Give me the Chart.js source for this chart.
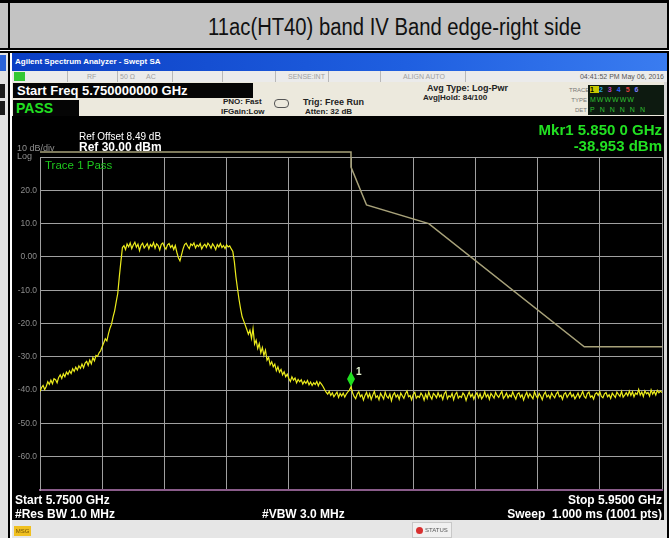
<!DOCTYPE html>
<html>
<head>
<meta charset="utf-8">
<script src="https://cdn.jsdelivr.net/npm/chart.js@4"></script>
<style>
body { margin: 0; width: 672px; height: 538px; overflow: hidden; background: #fff; position: relative; font-family: "Liberation Sans", Arial, sans-serif; }
.a { position: absolute; white-space: nowrap; }
.b { font-weight: bold; }
.w { color: #fff; }
.g { color: #22e022; }
.sep { position: absolute; top: 71px; width: 1px; height: 11px; background: #b8b8b8; }
.st { font-size: 7px; color: #a0a0a0; top: 72px; line-height: 10px; }
.dk { font-size: 8px; color: #222; font-weight: bold; line-height: 10px; }
</style>
</head>
<body>
<!-- table frame -->
<div class="a" style="left:0;top:0;width:672px;height:3px;background:#000"></div>
<div class="a" style="left:0;top:3px;width:668px;height:46px;background:#c3c3c3"></div>
<div class="a" style="left:8px;top:0;width:2px;height:538px;background:#000"></div>
<div class="a" style="left:667px;top:0;width:2px;height:538px;background:#000"></div>
<div class="a" style="left:669px;top:0;width:3px;height:538px;background:#fff"></div>
<div class="a" style="left:208px;top:9px;font-size:23px;line-height:36px;color:#111;transform:scaleX(0.88);transform-origin:left center">11ac(HT40) band IV Band edge-right side</div>
<div class="a" style="left:0;top:48px;width:669px;height:2px;background:#000"></div>
<div class="a" style="left:0;top:50px;width:669px;height:1px;background:#fff"></div>
<div class="a" style="left:0;top:51px;width:669px;height:2px;background:#000"></div>

<!-- left fragment of previous screenshot -->
<div class="a" style="left:0;top:53px;width:8px;height:485px;background:#e2e2e2"></div>
<div class="a" style="left:0;top:55px;width:6px;height:16px;background:#2a62d8"></div>
<div class="a" style="left:0;top:84px;width:5px;height:14px;background:#1a1a1a"></div>
<div class="a" style="left:0;top:101px;width:5px;height:14px;background:#1a1a1a"></div>
<div class="a" style="left:10px;top:53px;width:2px;height:485px;background:#fff"></div>

<!-- analyzer window -->
<div class="a" style="left:12px;top:53px;width:655px;height:18px;background:linear-gradient(to right,#0b3fc4,#1f5fe0 60%,#3a7cf0)"></div>
<div class="a b w" style="left:15px;top:56px;font-size:8px;line-height:12px">Agilent Spectrum Analyzer - Swept SA</div>
<div class="a" style="left:12px;top:71px;width:655px;height:11px;background:#ebebeb"></div>
<div class="a" style="left:14px;top:72px;width:11px;height:9px;background:#33c833"></div>
<div class="sep" style="left:67px"></div>
<div class="sep" style="left:117px"></div>
<div class="sep" style="left:172px"></div>
<div class="sep" style="left:222px"></div>
<div class="sep" style="left:275px"></div>
<div class="sep" style="left:328px"></div>
<div class="sep" style="left:380px"></div>
<div class="sep" style="left:465px"></div>
<div class="a st" style="left:87px">RF</div>
<div class="a st" style="left:120px">50 Ω</div>
<div class="a st" style="left:146px">AC</div>
<div class="a st" style="left:288px">SENSE:INT</div>
<div class="a st" style="left:403px">ALIGN AUTO</div>
<div class="a st" style="right:8px;color:#555">04:41:52 PM May 06, 2016</div>

<div class="a" style="left:12px;top:82px;width:655px;height:34px;background:#ece9dd"></div>
<div class="a" style="left:13px;top:83px;width:240px;height:15px;background:#050505"></div>
<div class="a b w" style="left:17px;top:83px;font-size:13px;line-height:15px">Start Freq 5.750000000 GHz</div>
<div class="a" style="left:13px;top:100px;width:66px;height:16px;background:#050505"></div>
<div class="a b g" style="left:16px;top:100px;font-size:14px;line-height:16px">PASS</div>
<div class="a dk" style="left:223px;top:97px">PNO: Fast</div>
<div class="a dk" style="left:221px;top:107px">IFGain:Low</div>
<div class="a" style="left:274px;top:99px;width:13px;height:7px;border:1px solid #555;border-radius:4px"></div>
<div class="a dk" style="left:303px;top:97px;font-size:9px">Trig: Free Run</div>
<div class="a dk" style="left:305px;top:107px">Atten: 32 dB</div>
<div class="a dk" style="left:427px;top:83px;font-size:9px">Avg Type: Log-Pwr</div>
<div class="a dk" style="left:423px;top:93px">Avg|Hold: 84/100</div>
<div class="a" style="left:569px;top:85px;font-size:6px;color:#777;line-height:10px;text-align:right;width:18px">TRACE<br>TYPE<br>DET</div>
<div class="a" style="left:588px;top:85px;width:77px;height:30px;background:#0d1a10"></div>
<div class="a b" style="left:590px;top:85px;font-size:7px;line-height:10px;letter-spacing:5px"><span style="background:#c8c800;color:#000">1</span><span style="color:#29a0e0">2</span><span style="color:#c040c0">3</span><span style="color:#3060ff">4</span><span style="color:#e04040">5</span><span style="color:#8080ff">6</span></div>
<div class="a" style="left:590px;top:95px;font-size:7px;line-height:10px;color:#30c030;letter-spacing:1px">MWWWWW</div>
<div class="a" style="left:590px;top:105px;font-size:7px;line-height:10px;color:#30c030;letter-spacing:5px">PNNNNN</div>

<!-- black display -->
<div class="a" style="left:12px;top:116px;width:652px;height:404px;background:#000"></div>
<div class="a" style="left:664px;top:82px;width:3px;height:438px;background:#d6d6d6"></div>
<canvas id="sa" class="a" style="left:12px;top:116px" width="652" height="404"></canvas>

<div class="a w" style="left:79px;top:131px;font-size:10px;line-height:11px">Ref Offset 8.49 dB</div>
<div class="a" style="left:17px;top:143px;font-size:9px;line-height:11px;color:#909090">10 dB/div</div>
<div class="a b w" style="left:79px;top:141px;font-size:12px;line-height:13px">Ref 30.00 dBm</div>
<div class="a" style="left:17px;top:151px;font-size:9px;line-height:10px;color:#909090">Log</div>
<div class="a b g" style="right:10px;top:121px;font-size:15px;line-height:17px">Mkr1 5.850 0 GHz</div>
<div class="a b g" style="right:10px;top:137px;font-size:15px;line-height:17px">-38.953 dBm</div>
<div class="a" style="left:45px;top:159px;font-size:11.5px;line-height:13px;color:#1ec81e">Trace 1 Pass</div>

<div class="a b w" style="left:15px;top:493px;font-size:12px;line-height:14px">Start 5.7500 GHz</div>
<div class="a b w" style="left:15px;top:507px;font-size:12px;line-height:14px">#Res BW 1.0 MHz</div>
<div class="a b w" style="left:262px;top:507px;font-size:12px;line-height:14px">#VBW 3.0 MHz</div>
<div class="a b w" style="right:10px;top:493px;font-size:12px;line-height:14px">Stop 5.9500 GHz</div>
<div class="a b w" style="right:10px;top:507px;font-size:12px;line-height:14px">Sweep&nbsp; 1.000 ms (1001 pts)</div>

<!-- bottom status bar -->
<div class="a" style="left:12px;top:520px;width:655px;height:18px;background:#e6e6e6"></div>
<div class="a" style="left:14px;top:526px;width:17px;height:10px;background:#f0c020;font-size:6px;line-height:10px;color:#705000;text-align:center">MSG</div>
<div class="a" style="left:412px;top:522px;width:38px;height:14px;border:1px solid #c8c8c8;background:#f0f0f0"></div>
<div class="a" style="left:416px;top:527px;width:7px;height:7px;border-radius:50%;background:#d83030"></div>
<div class="a" style="left:425px;top:525px;font-size:6px;line-height:10px;color:#555">STATUS</div>

<script>
// sweep: 5750 MHz to 5950 MHz, one reading every 0.5 MHz (each row = 10 MHz)
const startMHz = 5750;
const stepMHz = 0.5;
const traceDbm = [
    -40.4, -39.2, -38.6, -39.8, -38.9, -37.5, -38.3, -37.0, -38.1, -36.6, -36.9, -37.8, -36.2, -35.4, -36.5, -35.1, -36.0, -34.6, -35.3, -34.2,
    -35.0, -33.6, -34.4, -33.1, -34.0, -32.7, -33.5, -32.2, -33.3, -31.9, -31.4, -32.6, -31.0, -32.1, -30.2, -31.2, -29.6, -29.9, -28.8, -28.2,
    -27.0, -25.8, -24.6, -25.2, -23.1, -21.4, -20.2, -18.0, -16.2, -13.5, -11.0, -6.0, -1.5, 2.8, 3.4, 2.2, 3.9, 3.0, 4.2, 2.5,
    3.6, 4.4, 2.9, 3.8, 1.9, 3.5, 4.1, 2.7, 3.3, 4.0, 2.4, 3.7, 3.1, 4.3, 2.6, 3.9, 3.4, 2.1, 3.8, 4.2,
    3.0, 2.3, 3.6, 4.0, 2.8, 3.5, 2.2, 3.4, 1.4, -0.3, -1.2, 0.6, 2.4, 3.7, 4.1, 3.2, 2.5, 3.9, 3.4, 4.2,
    2.7, 3.6, 3.1, 4.0, 2.4, 3.3, 3.8, 2.9, 4.1, 3.5, 2.6, 3.9, 3.2, 2.2, 3.7, 3.0, 4.0, 2.8, 3.4, 2.5,
    3.6, 3.0, 3.3, 2.4, 1.6, -1.5, -6.0, -9.5, -12.8, -15.6, -18.0, -19.2, -20.5, -21.8, -23.2, -22.0, -24.5, -21.5, -26.2, -25.0,
    -27.5, -26.0, -28.8, -27.2, -29.6, -28.0, -31.0, -30.2, -32.4, -31.5, -33.0, -32.2, -34.2, -33.0, -34.6, -33.8, -35.4, -34.5, -36.0, -35.2,
    -36.5, -37.4, -36.0, -37.0, -36.4, -37.8, -36.8, -37.5, -36.9, -38.2, -37.3, -38.0, -37.1, -38.4, -37.6, -38.6, -37.8, -38.3, -37.4, -38.7,
    -37.6, -38.2, -38.9, -39.8, -40.6, -41.2, -40.4, -41.6, -40.8, -42.0, -41.3, -40.6, -42.2, -41.0, -41.8, -40.9, -42.1, -41.2, -40.5, -40.0,
    -39.0, -40.8, -41.9, -42.6, -41.2, -40.5, -42.0, -41.4, -43.0, -41.6, -40.7, -42.3, -41.1, -42.8, -41.5, -40.4, -42.2, -41.7, -42.9, -41.0,
    -41.8, -42.7, -40.6, -41.9, -42.4, -41.2, -43.2, -41.5, -40.8, -42.1, -41.4, -42.8, -40.9, -41.7, -42.5, -41.1, -40.3, -42.0, -41.6, -42.9,
    -41.3, -40.7, -42.4, -41.8, -42.2, -40.9, -41.6, -43.0, -41.2, -42.5, -40.6, -41.9, -42.7, -41.0, -41.5, -42.3, -40.8, -42.0, -41.4, -42.8,
    -41.1, -40.4, -42.6, -41.7, -42.1, -41.0, -42.9, -41.3, -40.7, -42.4, -41.8, -42.2, -40.9, -41.5, -43.1, -41.6, -40.6, -42.0, -41.2, -42.7,
    -41.4, -40.8, -42.3, -41.1, -42.6, -41.9, -40.5, -42.1, -41.3, -42.8, -41.0, -41.7, -42.4, -40.7, -41.6, -42.2, -41.2, -40.4, -42.5, -41.8,
    -40.9, -42.3, -41.5, -42.0, -40.6, -41.8, -42.7, -41.2, -40.8, -42.1, -41.4, -43.0, -41.6, -40.7, -42.2, -41.1, -41.9, -42.6, -40.5, -41.7,
    -42.4, -41.0, -41.8, -42.9, -41.3, -40.6, -42.1, -41.5, -42.5, -40.9, -41.7, -42.3, -41.1, -40.5, -42.0, -41.6, -42.8, -41.2, -40.8, -42.2,
    -41.4, -40.7, -42.0, -41.3, -42.6, -41.8, -40.9, -42.3, -41.5, -40.4, -41.9, -42.4, -41.0, -40.6, -42.1, -41.7, -42.7, -41.2, -40.8, -41.6,
    -40.5, -41.9, -42.3, -41.1, -40.7, -42.0, -41.4, -42.5, -40.9, -41.6, -42.2, -40.6, -41.3, -41.9, -40.4, -42.1, -41.5, -40.8, -41.7, -40.3,
    -41.6, -40.5, -42.0, -40.9, -41.3, -39.8, -41.5, -40.6, -41.9, -40.2, -41.1, -40.7, -41.8, -39.9, -41.2, -40.4, -41.5, -40.1, -40.8, -40.3,
    -40.7
];

// limit line (drawn above the graticule before 5.85 GHz)
const limitMHz = [5750, 5850, 5850, 5855, 5875, 5925, 5950];
const limitDbm = [31.5, 31.5, 27, 15.6, 10, -27, -27];

const markerMHz = 5850;
const markerDbm = -38.953;

const yTicks = [30, 20, 10, 0, -10, -20, -30, -40, -50, -60, -70];
const yLabels = ['', '20.0', '10.0', '0.00', '-10.0', '-20.0', '-30.0', '-40.0', '-50.0', '-60.0', ''];

const tracePoints = traceDbm.map((v, i) => ({ x: startMHz + i * stepMHz, y: v }));
const limitPoints = limitMHz.map((f, i) => ({ x: f, y: limitDbm[i] }));

const markerPlugin = {
    id: 'marker',
    afterDatasetsDraw(chart) {
        const c = chart.ctx;
        const px = chart.scales.x.getPixelForValue(markerMHz);
        const py = chart.scales.y.getPixelForValue(markerDbm);
        c.save();
        c.fillStyle = '#1fe01f';
        c.beginPath();
        c.moveTo(px, py);
        c.lineTo(px + 4, py - 7.5);
        c.lineTo(px, py - 15);
        c.lineTo(px - 4, py - 7.5);
        c.closePath();
        c.fill();
        c.fillStyle = '#e4f4d0';
        c.font = 'bold 10px "Liberation Sans", Arial, sans-serif';
        c.textBaseline = 'middle';
        c.fillText('1', px + 5, py - 14);
        c.restore();
    }
};

const ctx = document.getElementById('sa').getContext('2d');
new Chart(ctx, {
    type: 'line',
    data: {
        datasets: [{
            label: 'Trace 1',
            data: tracePoints,
            borderColor: '#ecec1c',
            borderWidth: 1.2,
            pointRadius: 0,
            tension: 0
        }, {
            label: 'Limit',
            data: limitPoints,
            borderColor: '#a8a27a',
            borderWidth: 1.5,
            pointRadius: 0,
            tension: 0,
            clip: false
        }]
    },
    options: {
        responsive: false,
        animation: false,
        layout: { padding: { left: 0, top: 41, right: 2, bottom: 30 } },
        plugins: { legend: { display: false }, tooltip: { enabled: false } },
        scales: {
            x: {
                type: 'linear',
                min: 5750,
                max: 5950,
                ticks: { stepSize: 20, display: false },
                grid: { color: '#a0a0a0', drawTicks: false },
                border: { color: '#8a5c8a', width: 2 },
                afterFit(s) { s.height = 0; }
            },
            y: {
                min: -70,
                max: 30,
                afterBuildTicks(s) { s.ticks = yTicks.map(v => ({ value: v })); },
                ticks: {
                    color: '#8c8c8c',
                    font: { size: 8.5, family: '"Liberation Sans", Arial, sans-serif' },
                    padding: 3,
                    callback: (v) => yLabels[yTicks.indexOf(v)]
                },
                grid: { color: '#a0a0a0', drawTicks: false },
                border: { color: '#a0a0a0' },
                afterFit(s) { s.width = 28; }
            }
        }
    },
    plugins: [markerPlugin]
});
</script>
</body>
</html>
